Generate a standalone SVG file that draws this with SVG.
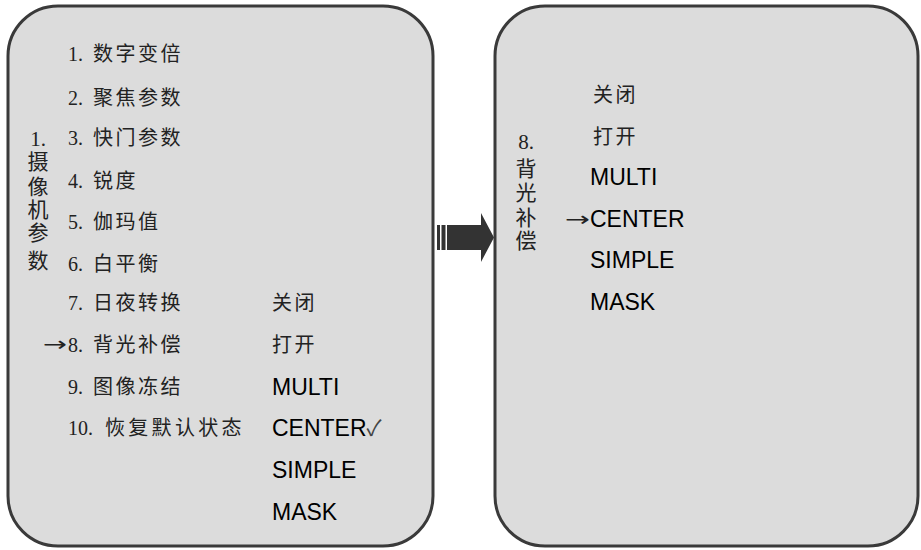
<svg xmlns="http://www.w3.org/2000/svg" width="921" height="550" viewBox="0 0 921 550">
<style>
.box{fill:#dcdcdc;stroke:#3a3a3a;stroke-width:3}
.cn{font-family:"Liberation Serif","Noto Sans CJK SC",serif;font-size:20px;fill:#222}
.cn .c{letter-spacing:2.5px}
.vl{font-family:"Liberation Serif","Noto Sans CJK SC",serif;font-size:21px;fill:#222;text-anchor:middle}
.en{font-family:"Liberation Sans",Arial,sans-serif;font-size:23px;fill:#000}
.ar{font-family:"DejaVu Sans",sans-serif;font-size:20px;fill:#222}
</style>
<rect width="921" height="550" fill="#fff"/>
<g id="menu-left">
<rect class="box" x="8" y="6" width="425" height="540" rx="50" ry="50"/>
<text class="vl" x="38" y="146">1.</text>
<text class="vl" x="38" y="169">摄</text>
<text class="vl" x="38" y="194">像</text>
<text class="vl" x="38" y="217">机</text>
<text class="vl" x="38" y="240">参</text>
<text class="vl" x="38" y="268">数</text>
<text class="cn" x="68" y="61">1.<tspan class="c" x="93">数字变倍</tspan></text>
<text class="cn" x="68" y="105">2.<tspan class="c" x="93">聚焦参数</tspan></text>
<text class="cn" x="68" y="145">3.<tspan class="c" x="93">快门参数</tspan></text>
<text class="cn" x="68" y="188">4.<tspan class="c" x="93">锐度</tspan></text>
<text class="cn" x="68" y="229">5.<tspan class="c" x="93">伽玛值</tspan></text>
<text class="cn" x="68" y="271">6.<tspan class="c" x="93">白平衡</tspan></text>
<text class="cn" x="68" y="310">7.<tspan class="c" x="93">日夜转换</tspan></text>
<text class="ar" x="43" y="351" textLength="24" lengthAdjust="spacingAndGlyphs">→</text>
<text class="cn" x="68" y="352">8.<tspan class="c" x="93">背光补偿</tspan></text>
<text class="cn" x="68" y="394">9.<tspan class="c" x="93">图像冻结</tspan></text>
<text class="cn" x="68" y="435">10.<tspan class="c" x="105" style="letter-spacing:3.3px">恢复默认状态</tspan></text>
<text class="cn" x="272" y="310"><tspan class="c">关闭</tspan></text>
<text class="cn" x="272" y="352"><tspan class="c">打开</tspan></text>
<text class="en" x="272" y="395">MULTI</text>
<text class="en" x="272" y="436">CENTER<tspan style="font-family:'Noto Sans CJK SC','DejaVu Sans',sans-serif;font-size:22px;fill:#444">✓</tspan></text>
<text class="en" x="272" y="478">SIMPLE</text>
<text class="en" x="272" y="520">MASK</text>
</g>
<g id="menu-right">
<rect class="box" x="495" y="6" width="423" height="540" rx="50" ry="50"/>
<text class="vl" x="526" y="149">8.</text>
<text class="vl" x="526" y="176">背</text>
<text class="vl" x="526" y="200">光</text>
<text class="vl" x="526" y="225">补</text>
<text class="vl" x="526" y="248">偿</text>
<text class="cn" x="593" y="102"><tspan class="c">关闭</tspan></text>
<text class="cn" x="593" y="144"><tspan class="c">打开</tspan></text>
<text class="en" x="590" y="185">MULTI</text>
<text class="ar" x="565" y="226" textLength="25" lengthAdjust="spacingAndGlyphs">→</text>
<text class="en" x="590" y="227">CENTER</text>
<text class="en" x="590" y="268">SIMPLE</text>
<text class="en" x="590" y="310">MASK</text>
</g>
<g id="connectors" fill="#333">
<rect x="437" y="225" width="3" height="25"/>
<rect x="441.5" y="225" width="4" height="25"/>
<polygon points="447,225 481,225 481,213 494,237.5 481,262 481,250 447,250"/>
</g>
</svg>
